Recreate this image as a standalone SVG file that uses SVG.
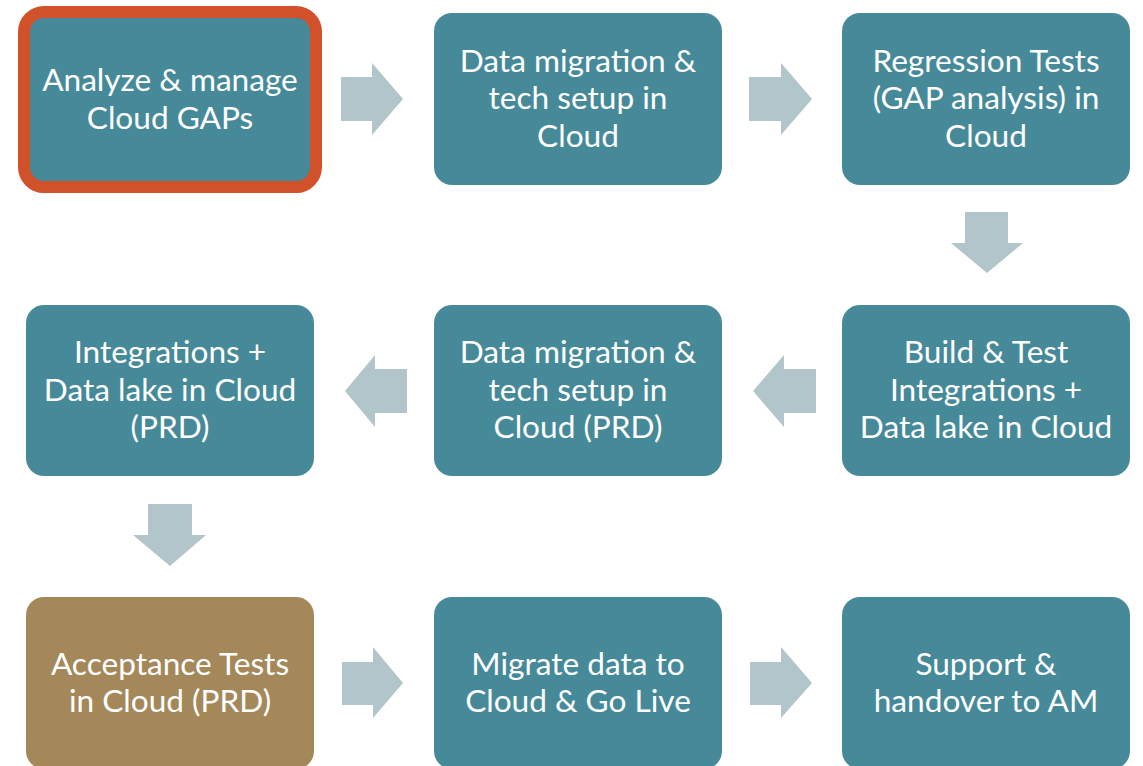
<svg xmlns="http://www.w3.org/2000/svg" width="1143" height="766" viewBox="0 0 1143 766">
<style>
.box{fill:#468a99;}
.box2{fill:#a4885a;}
.hl{fill:#468a99;stroke:#d0512a;stroke-width:12;}
.arr{fill:#b2c5cb;}
text{font-family:Lato,"Liberation Sans",sans-serif;font-size:31.6px;fill:#ffffff;text-anchor:middle;}
</style>
<rect width="1143" height="766" fill="#ffffff"/>
<g id="connectors">
<polygon class="arr" points="341,77 372,77 372,63 403,99 372,135 372,121 341,121"/>
<polygon class="arr" points="749,77 781,77 781,63 812,99 781,135 781,121 749,121"/>
<polygon class="arr" points="965,212 1008,212 1008,243 1023,243 987,273 951,243 965,243"/>
<polygon class="arr" points="816,369 784,369 784,355 753,391 784,427 784,413 816,413"/>
<polygon class="arr" points="407,369 375,369 375,355 345,391 375,427 375,413 407,413"/>
<polygon class="arr" points="148,504 192,504 192,535 206,535 170,566 133,535 148,535"/>
<polygon class="arr" points="342,662 373,662 373,647 403,683 373,718 373,705 342,705"/>
<polygon class="arr" points="750,662 781,662 781,647 812,683 781,718 781,705 750,705"/>
</g>
<g id="n1"><rect class="hl" x="24" y="12" width="292" height="175" rx="20"/><text x="170" y="90.5">Analyze &amp; manage</text><text x="170" y="128.5">Cloud GAPs</text></g>
<g id="n2"><rect class="box" x="434" y="13" width="288" height="172" rx="18"/><text x="578" y="71.5">Data migration &amp;</text><text x="578" y="109">tech setup in</text><text x="578" y="146.5">Cloud</text></g>
<g id="n3"><rect class="box" x="842" y="13" width="288" height="172" rx="18"/><text x="986" y="71.5">Regression Tests</text><text x="986" y="109">(GAP analysis) in</text><text x="986" y="146.5">Cloud</text></g>
<g id="n4"><rect class="box" x="842" y="305" width="288" height="171" rx="18"/><text x="986" y="363">Build &amp; Test</text><text x="986" y="400.5">Integrations +</text><text x="986" y="438">Data lake in Cloud</text></g>
<g id="n5"><rect class="box" x="434" y="305" width="288" height="171" rx="18"/><text x="578" y="363">Data migration &amp;</text><text x="578" y="400.5">tech setup in</text><text x="578" y="438">Cloud (PRD)</text></g>
<g id="n6"><rect class="box" x="26" y="305" width="288" height="171" rx="18"/><text x="170" y="363">Integrations +</text><text x="170" y="400.5">Data lake in Cloud</text><text x="170" y="438">(PRD)</text></g>
<g id="n7"><rect class="box2" x="26" y="597" width="288" height="172" rx="18"/><text x="170" y="674.5">Acceptance Tests</text><text x="170" y="712">in Cloud (PRD)</text></g>
<g id="n8"><rect class="box" x="434" y="597" width="288" height="172" rx="18"/><text x="578" y="674.5">Migrate data to</text><text x="578" y="712">Cloud &amp; Go Live</text></g>
<g id="n9"><rect class="box" x="842" y="597" width="288" height="172" rx="18"/><text x="986" y="674.5">Support &amp;</text><text x="986" y="712">handover to AM</text></g>
</svg>
